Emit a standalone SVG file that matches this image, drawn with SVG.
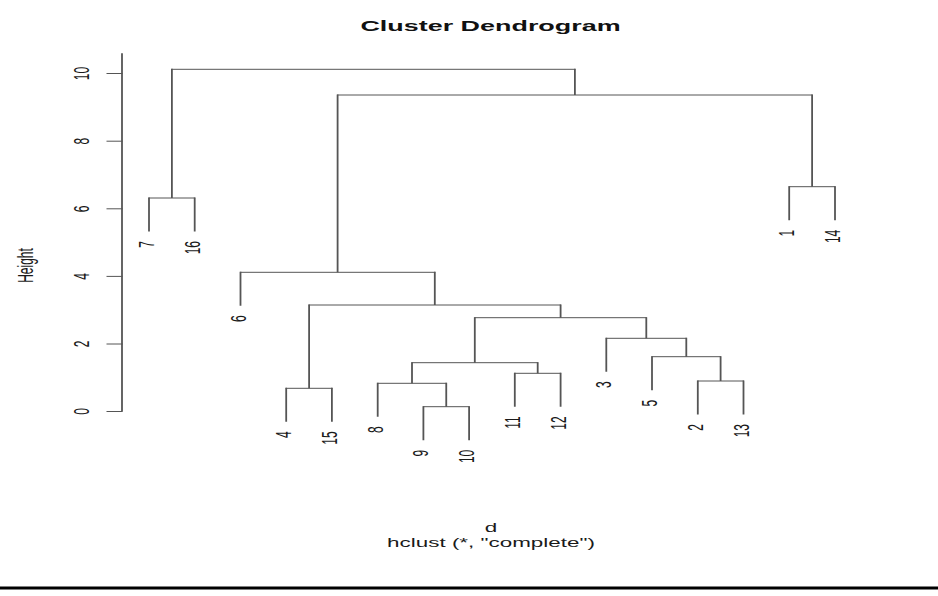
<svg xmlns="http://www.w3.org/2000/svg" width="938" height="596" viewBox="0 0 938 596">
<style>
text{font-family:"Liberation Sans",Arial,sans-serif;fill:#1a1a1a;font-size:12px}
.title{font-weight:bold;font-size:14.4px;fill:#111}
.hz{stroke:#555;stroke-width:1;fill:none;stroke-linecap:square}
.vt{stroke:#555;stroke-width:1.8;fill:none;stroke-linecap:butt}
</style>
<rect width="938" height="596" fill="#fff"/>
<text class="title" text-anchor="middle" transform="translate(490.5,30.5) scale(1.87,1)">Cluster Dendrogram</text>
<g id="axis">
<path class="vt" d="M122 53.3V411.5"/>
<path class="hz" d="M107 73.5H122M107 141.2H122M107 208.8H122M107 276.4H122M107 344H122M107 411.5H122"/>
<text text-anchor="middle" transform="translate(89,73.5) scale(1.87,1) rotate(-90)">10</text>
<text text-anchor="middle" transform="translate(89,141.2) scale(1.87,1) rotate(-90)">8</text>
<text text-anchor="middle" transform="translate(89,208.8) scale(1.87,1) rotate(-90)">6</text>
<text text-anchor="middle" transform="translate(89,276.4) scale(1.87,1) rotate(-90)">4</text>
<text text-anchor="middle" transform="translate(89,344) scale(1.87,1) rotate(-90)">2</text>
<text text-anchor="middle" transform="translate(89,411.5) scale(1.87,1) rotate(-90)">0</text>
<text text-anchor="middle" transform="translate(32.5,265.5) scale(1.87,1) rotate(-90)">Height</text>
</g>
<g id="connectors">
<path class="hz" d="M423.4 406.7H469.1M377.7 383.3H446.25M514.8 373.3H560.6M412 362.7H537.7M697.8 381H743.5M652 356.7H720.6M606.3 338.3H686.3M474.8 317.7H646.3M286.2 388.3H331.9M309.1 305H560.6M240.5 272.3H434.8M789.2 186.7H835M337.6 95H812.1M149 198H194.7M171.9 69.3H574.9"/>
<path class="vt" d="M423.4 406.2V440.2M469.1 406.2V440.2M377.7 382.8V416.8M446.25 382.8V406.7M514.8 372.8V406.8M560.6 372.8V406.8M412 362.2V383.3M537.7 362.2V373.3M697.8 380.5V414.5M743.5 380.5V414.5M652 356.2V390.2M720.6 356.2V381M606.3 337.8V371.8M686.3 337.8V356.7M474.8 317.2V362.7M646.3 317.2V338.3M286.2 387.8V421.8M331.9 387.8V421.8M309.1 304.5V388.3M560.6 304.5V317.7M240.5 271.8V305.8M434.8 271.8V305M789.2 186.2V220.2M835 186.2V220.2M337.6 94.5V272.3M812.1 94.5V186.7M149 197.5V231.5M194.7 197.5V231.5M171.9 68.8V198M574.9 68.8V95"/>
</g>
<g id="leaf-7"><text text-anchor="end" transform="translate(154,241) scale(1.87,1) rotate(-90)">7</text></g>
<g id="leaf-16"><text text-anchor="end" transform="translate(199.7,241) scale(1.87,1) rotate(-90)">16</text></g>
<g id="leaf-6"><text text-anchor="end" transform="translate(245.5,315.3) scale(1.87,1) rotate(-90)">6</text></g>
<g id="leaf-4"><text text-anchor="end" transform="translate(291.2,431.3) scale(1.87,1) rotate(-90)">4</text></g>
<g id="leaf-15"><text text-anchor="end" transform="translate(336.9,431.3) scale(1.87,1) rotate(-90)">15</text></g>
<g id="leaf-8"><text text-anchor="end" transform="translate(382.7,426.3) scale(1.87,1) rotate(-90)">8</text></g>
<g id="leaf-9"><text text-anchor="end" transform="translate(428.4,449.7) scale(1.87,1) rotate(-90)">9</text></g>
<g id="leaf-10"><text text-anchor="end" transform="translate(474.1,449.7) scale(1.87,1) rotate(-90)">10</text></g>
<g id="leaf-11"><text text-anchor="end" transform="translate(519.8,416.3) scale(1.87,1) rotate(-90)">11</text></g>
<g id="leaf-12"><text text-anchor="end" transform="translate(565.6,416.3) scale(1.87,1) rotate(-90)">12</text></g>
<g id="leaf-3"><text text-anchor="end" transform="translate(611.3,381.3) scale(1.87,1) rotate(-90)">3</text></g>
<g id="leaf-5"><text text-anchor="end" transform="translate(657,399.7) scale(1.87,1) rotate(-90)">5</text></g>
<g id="leaf-2"><text text-anchor="end" transform="translate(702.8,424) scale(1.87,1) rotate(-90)">2</text></g>
<g id="leaf-13"><text text-anchor="end" transform="translate(748.5,424) scale(1.87,1) rotate(-90)">13</text></g>
<g id="leaf-1"><text text-anchor="end" transform="translate(794.2,229.7) scale(1.87,1) rotate(-90)">1</text></g>
<g id="leaf-14"><text text-anchor="end" transform="translate(840,229.7) scale(1.87,1) rotate(-90)">14</text></g>
<text text-anchor="middle" transform="translate(491,532) scale(1.87,1)">d</text>
<text text-anchor="middle" transform="translate(491,546.7) scale(1.87,1)">hclust (*, "complete")</text>
<rect x="0" y="586.5" width="938" height="3" fill="#000"/>
</svg>
